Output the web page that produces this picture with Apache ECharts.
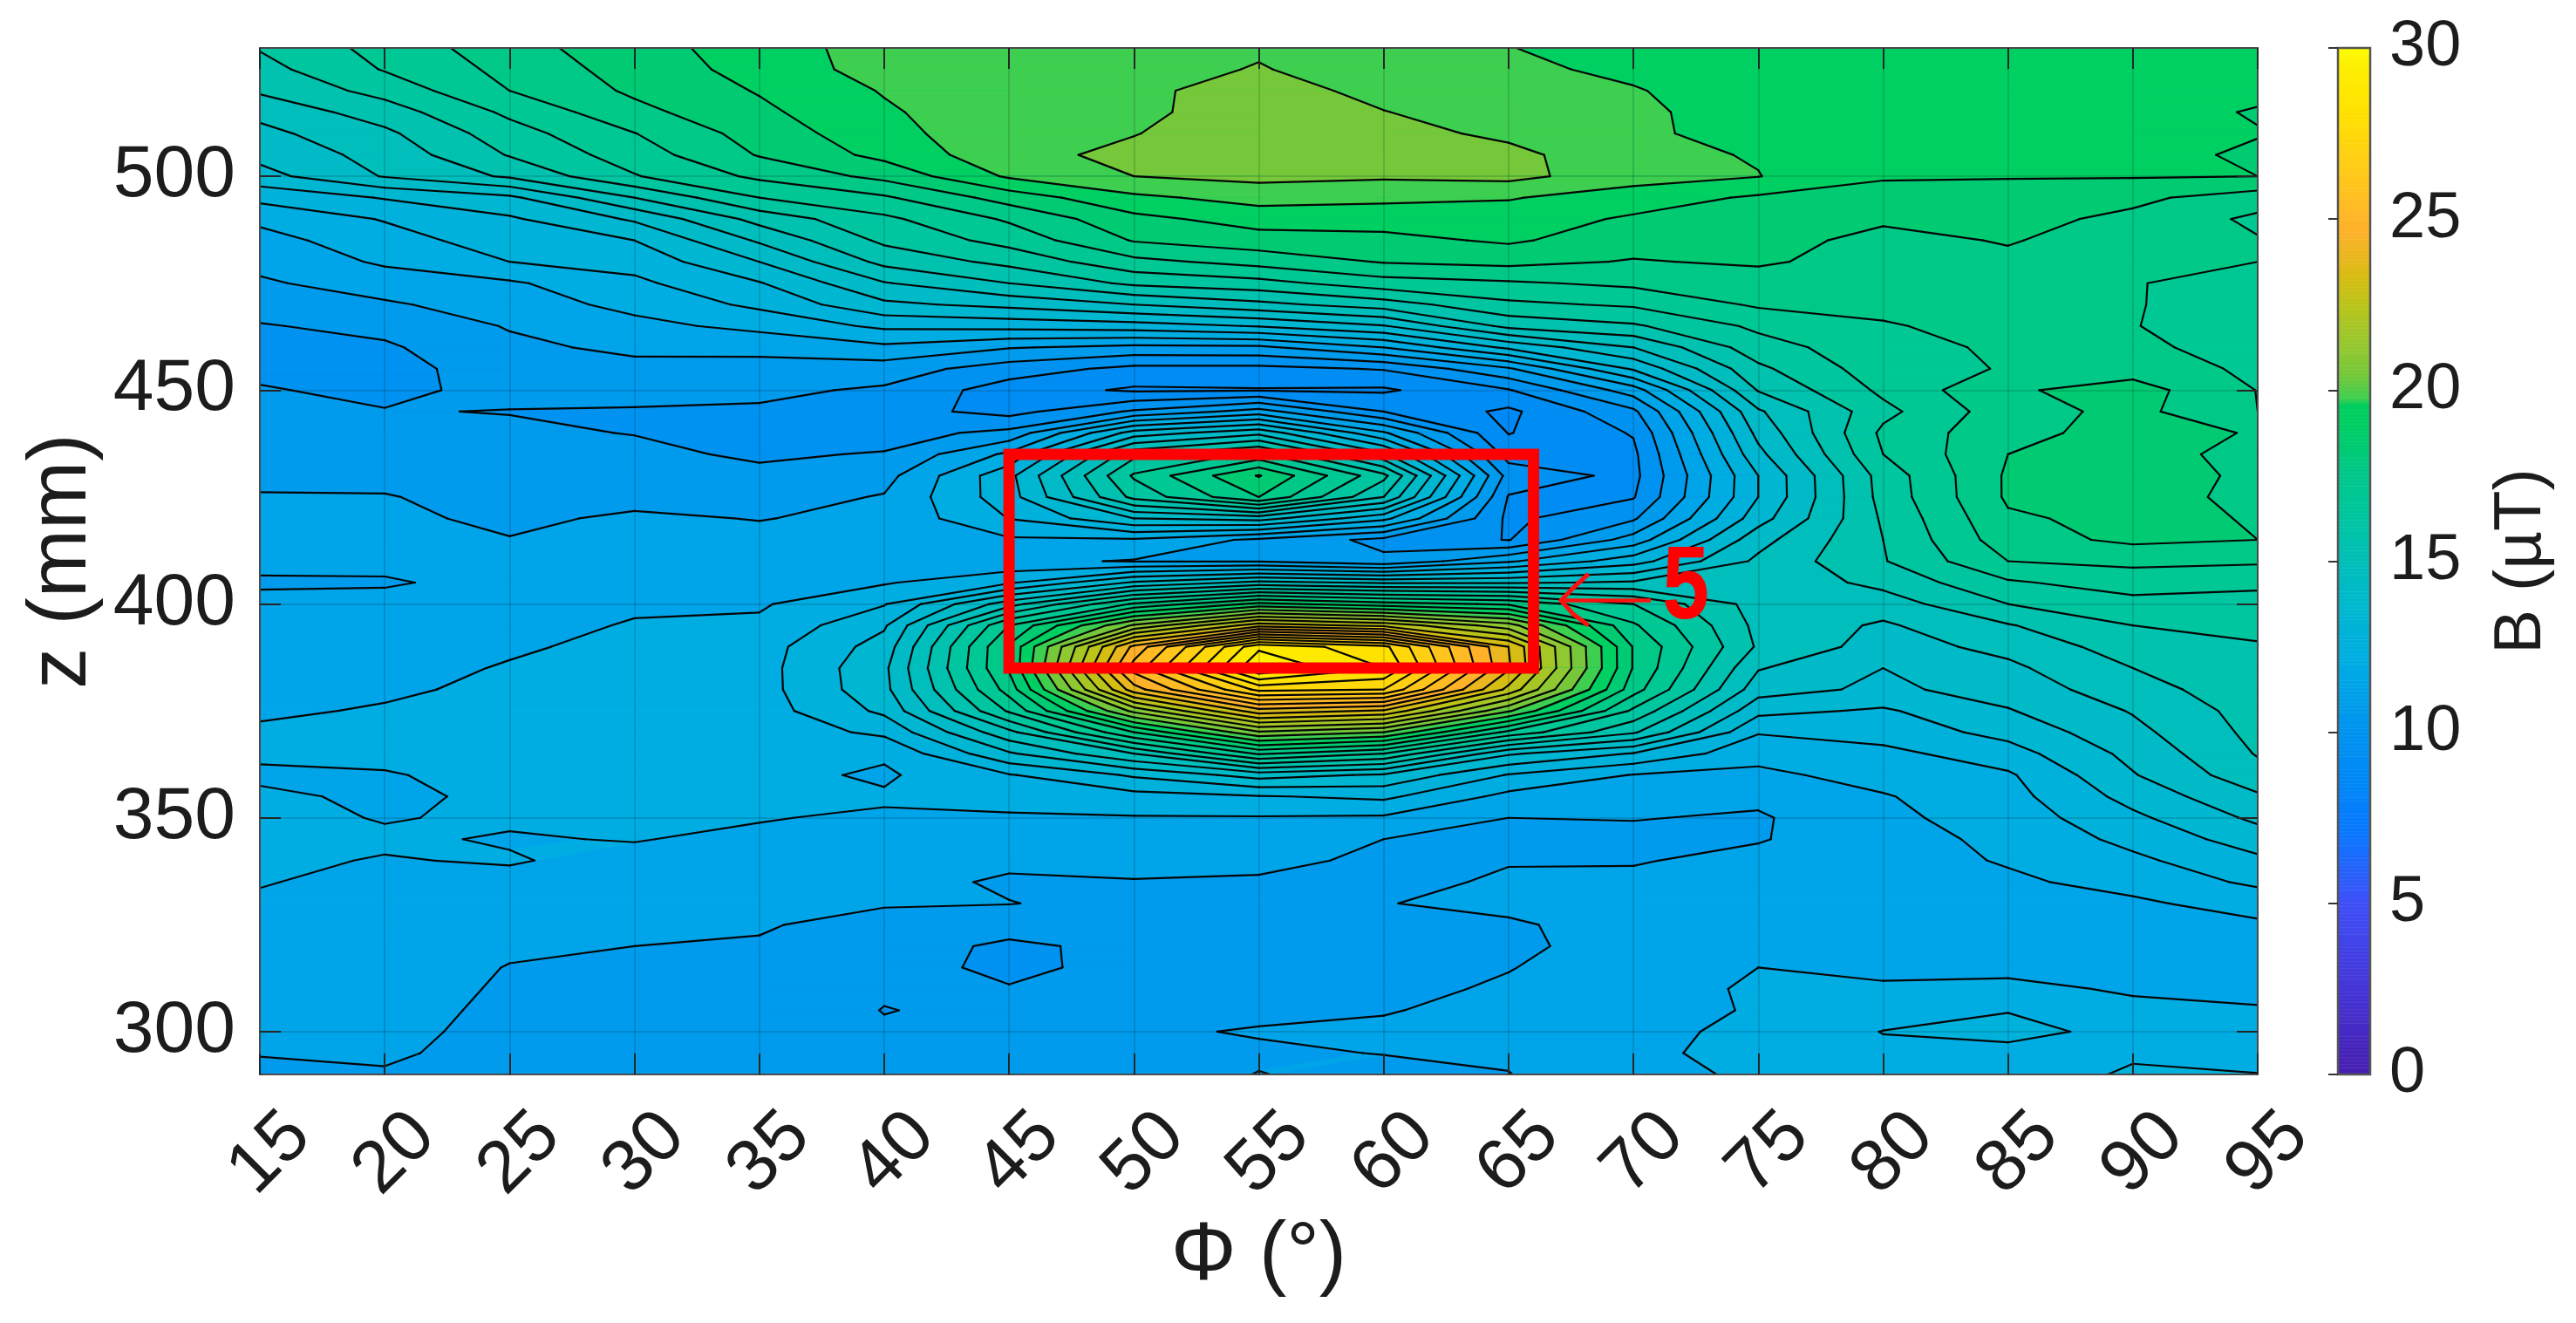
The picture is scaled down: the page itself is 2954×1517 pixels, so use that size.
<!DOCTYPE html>
<html>
<head>
<meta charset="utf-8">
<style>html,body{margin:0;padding:0;background:#fff}#c{width:2954px;height:1517px}</style>
<script src="https://cdn.jsdelivr.net/npm/echarts@6/dist/echarts.min.js"></script>
</head>
<body>
<div id="c"></div>
<script>
const phiValues = [15,20,25,30,35,40,45,50,55,60,65,70,75,80,85,90,95];
const zValues = [530,525,520,515,510,505,500,495,490,485,480,475,470,465,460,455,450,445,440,435,430,425,420,415,410,405,400,395,390,385,380,375,370,365,360,355,350,345,340,335,330,325,320,315,310,305,300,295,290];
const zTicks = [300,350,400,450,500];
const levels = [8.5,9.2,9.9,10.6,11.3,12,12.7,13.4,14.1,14.8,15.5,16.2,16.9,17.6,18.3,19,19.7,20.4,21.1,21.8,22.5,23.2,23.9,24.6,25.3,26,26.7,27.4,28.1,28.8,29.5,30.2];

const B15 = [16.25,15.95,15.6,15.0,14.6,14.3,13.85,12.9,12.15,11.75,
 11.5,11.2,10.9,10.55,10.3,10.45,10.65,10.8,10.95,11.05,
 11.2,11.33,11.4,11.45,11.5,11.2,11.5,11.6,11.65,11.75,
 11.85,11.95,12.05,12.1,11.9,12.1,12.1,12.1,12.06,12.02,
 11.95,11.88,11.8,11.7,11.62,11.52,11.42,11.32,11.2];
const B20 = [17.15,16.95,16.45,15.85,15.35,15.05,14.85,13.45,12.75,12.4,
 12.1,11.65,11.2,10.8,10.5,10.35,10.45,10.63,10.8,10.95,
 11.15,11.33,11.4,11.45,11.5,11.22,11.55,11.68,11.78,11.87,
 11.95,12.03,12.08,12.1,11.97,11.9,11.98,12.05,11.98,11.9,
 11.85,11.8,11.75,11.7,11.65,11.55,11.48,11.38,11.25];
const B25 = [18.0,17.8,17.6,17.05,16.6,16.25,15.6,13.95,13.3,13.05,
 12.7,11.9,11.65,11.35,11.15,10.95,10.78,10.58,10.7,10.8,
 10.95,11.1,11.2,11.32,11.45,11.55,11.7,11.82,11.95,12.03,
 12.07,12.1,12.13,12.15,12.13,12.1,12.05,11.97,12.03,11.9,
 11.75,11.6,11.42,11.27,11.2,11.15,11.1,11.1,11.1];
const B30 = [18.75,18.6,18.42,18.1,17.58,17.25,16.85,15.5,14.2,13.4,
 12.95,12.55,12.2,11.8,11.45,11.1,10.8,10.55,10.58,10.75,
 10.9,11.15,11.38,11.5,11.62,11.75,11.92,12.04,12.1,12.15,
 12.2,12.25,12.3,12.3,12.27,12.2,12.1,12.02,11.88,11.72,
 11.58,11.45,11.3,11.22,11.15,11.1,11.08,11.05,11.05];
const B35 = [19.3,19.25,19.05,18.85,18.6,18.35,17.75,16.9,15.75,14.9,
 14.1,13.35,12.85,12.2,11.5,11.05,10.75,10.5,10.35,10.5,
 10.75,11.0,11.28,11.45,11.6,11.75,11.92,12.12,12.4,12.42,
 12.42,12.37,12.28,12.25,12.2,12.12,12.03,11.9,11.75,11.6,
 11.47,11.35,11.25,11.18,11.12,11.08,11.05,11.02,11.02];
const B40 = [20.05,20.0,19.75,19.6,19.45,19.2,18.5,17.5,16.75,16.35,
 15.7,14.75,13.95,12.85,11.85,10.95,10.5,10.2,10.3,10.65,
 11.05,11.35,11.43,11.55,11.72,11.93,12.65,13.3,13.7,13.95,
 13.9,13.55,12.85,12.1,11.9,12.08,11.92,11.82,11.72,11.55,
 11.35,11.1,10.95,10.85,10.68,10.58,10.68,10.72,10.75];
const B45 = [20.1,20.1,20.15,20.2,20.2,20.15,19.8,18.6,17.7,17.15,
 16.4,15.5,14.3,12.95,11.35,10.25,9.55,9.65,10.8,12.15,
 13.2,13.1,12.72,11.9,11.45,12.6,15.2,17.6,18.4,18.4,
 17.9,17.0,15.3,14.0,12.65,12.3,11.9,11.7,11.45,11.2,
 11.32,10.9,10.46,10.45,10.64,10.75,10.8,10.8,10.85];
const B50 = [20.0,20.1,20.25,20.2,20.37,20.6,20.4,19.55,18.8,18.35,
 17.4,16.35,14.8,13.1,11.1,9.7,9.1,10.7,13.7,16.0,
 17.0,16.4,14.1,11.9,11.25,14.2,17.7,21.2,24.8,25.6,
 24.3,21.3,18.3,15.5,13.5,12.45,11.95,11.8,11.6,11.25,
 11.1,10.95,10.8,10.8,10.82,10.88,11.2,11.0,10.95];
const B55 = [20.3,20.45,20.7,20.85,20.9,20.85,20.6,19.95,19.3,18.7,
 17.85,16.65,15.3,13.45,11.15,9.7,9.15,11.6,14.6,17.1,
 19.05,18.3,14.4,11.15,11.25,15.0,19.2,23.6,29.35,30.15,
 27.6,24.3,21.0,17.7,14.4,12.65,11.95,11.75,11.5,11.2,
 11.0,10.95,10.9,10.85,10.85,11.15,11.35,11.2,11.32];
const B60 = [19.95,20.0,20.2,20.42,20.65,20.7,20.5,19.85,19.3,18.8,
 18.35,17.3,15.85,14.05,12.0,9.95,9.1,9.9,12.1,14.25,
 16.4,15.5,12.9,10.4,10.75,14.7,18.6,23.0,28.3,28.8,
 27.4,23.8,20.4,16.9,14.0,12.85,11.9,11.3,11.15,11.05,
 11.28,10.95,10.95,11.0,11.1,11.25,11.45,11.32,11.1];
const B65 = [19.72,19.85,19.95,20.05,20.25,20.6,20.6,19.75,19.35,19.1,
 18.5,17.5,16.75,15.7,13.55,11.2,9.85,9.05,9.17,9.6,
 10.33,9.85,9.75,9.87,11.9,14.7,18.2,21.4,23.9,24.0,
 23.0,20.5,17.4,14.2,12.65,11.8,11.3,11.15,11.25,11.42,
 11.45,11.22,11.15,11.27,11.4,11.55,11.52,11.4,11.28];
const B70 = [19.4,19.55,19.75,19.85,19.85,19.9,20.0,19.35,18.9,18.6,
 18.25,17.75,17.0,16.1,14.8,13.5,11.65,10.45,9.95,9.75,
 9.7,9.85,10.5,11.6,13.1,14.9,16.9,17.7,18.25,18.25,
 17.9,16.75,15.6,13.35,11.97,11.7,11.33,11.12,11.25,11.45,
 11.5,11.55,11.6,11.7,11.78,11.78,11.85,11.9,11.9];
const B75 = [19.2,19.25,19.3,19.35,19.4,19.65,19.72,18.9,18.75,18.55,
 18.4,17.95,17.7,17.05,16.6,16.05,15.55,14.7,14.3,13.9,
 13.4,13.4,13.8,14.55,14.95,15.0,15.2,15.3,15.4,14.85,
 14.4,13.6,12.75,12.22,11.85,11.45,11.22,11.25,11.5,11.65,
 11.75,11.82,11.9,12.0,12.07,12.05,12.13,12.15,12.05];
const B80 = [19.2,19.2,19.2,19.2,19.2,19.15,19.05,18.8,18.4,18.1,
 18.0,17.9,17.75,17.55,17.35,17.3,17.05,16.7,17.05,16.9,
 16.5,16.45,16.3,16.2,16.15,15.7,15.15,14.7,14.5,14.1,
 13.95,13.3,13.0,12.5,12.25,11.95,11.85,11.75,11.75,11.8,
 11.82,11.85,11.88,11.95,12.03,12.35,12.72,12.55,12.3];
const B85 = [19.2,19.2,19.2,19.2,19.2,19.15,19.05,18.65,18.5,18.35,
 18.15,17.98,17.88,17.8,17.72,17.65,18.2,18.0,18.1,18.3,
 18.4,18.4,18.2,18.0,17.6,16.8,16.2,15.45,15.0,14.65,
 14.4,14.05,13.62,13.1,12.6,12.45,12.3,12.15,12.05,11.9,
 11.85,11.85,11.85,11.9,12.1,12.68,12.85,12.55,12.3];
const B90 = [19.3,19.3,19.3,19.25,19.25,19.2,19.05,18.45,18.15,17.95,
 17.8,17.62,17.63,17.62,17.75,18.0,18.6,18.5,18.55,18.6,
 18.65,18.6,18.5,18.45,17.75,17.25,16.65,16.2,15.85,15.5,
 15.2,14.85,14.6,14.3,14.05,13.65,13.25,12.9,12.55,12.2,
 11.9,11.85,11.85,11.85,11.95,12.1,12.55,12.6,12.8];
const B95 = [19.35,19.25,19.15,18.95,19.03,18.9,19.0,17.95,17.45,17.65,
 17.6,17.45,17.35,17.3,17.3,17.45,17.58,17.6,18.25,18.05,
 18.15,18.1,18.25,18.3,17.7,17.05,16.65,16.35,16.15,16.05,
 15.95,15.8,15.7,15.55,15.25,14.7,14.25,13.75,13.25,12.85,
 12.25,11.9,11.8,11.75,11.85,12.05,12.2,12.4,12.72];

const boxPhi = [45,66];
const boxZ = [385,435];
const arrowShaftPhi = [70.7,67.1];
const arrowShaftZ = [400.8,400.8];
const arrowHeadPhi = [68.2,67.6,67.1,67.6,68.2];
const arrowHeadZ = [407,403.8,400.8,397.6,395];
const annotationPos = [72.1,403.3];

const columns = [B15,B20,B25,B30,B35,B40,B45,B50,B55,B60,B65,B70,B75,B80,B85,B90,B95];

const cmapStops = [
 [0,'#471fb0'],[2.5,'#4536d8'],[5,'#3f50f8'],[7,'#0a78ff'],[8.5,'#0088f6'],[9.9,'#0092f0'],[11.3,'#00a4e8'],
 [12,'#00ade3'],[13.4,'#00b7d2'],[14.8,'#00bebb'],[16.2,'#00c6a0'],[17.6,'#00c988'],[18.3,'#00cb72'],[19,'#00cf62'],[19.5,'#00cf60'],
 [19.7,'#3ecf50'],[20.4,'#76c83a'],[21.1,'#90c832'],[22.5,'#bcc41a'],[23.2,'#d6bd14'],[24.6,'#ffb12a'],[25.3,'#ffba24'],
 [26.7,'#ffcf14'],[28.1,'#ffe200'],[29.5,'#fdf000'],[30,'#ffff00']];
function hex(c){return [parseInt(c.slice(1,3),16),parseInt(c.slice(3,5),16),parseInt(c.slice(5,7),16)];}
function cmap(v){
  if(v<=cmapStops[0][0])return cmapStops[0][1];
  for(let k=1;k<cmapStops.length;k++){
    if(v<=cmapStops[k][0]){
      const a=cmapStops[k-1],b=cmapStops[k],t=(v-a[0])/(b[0]-a[0]),A=hex(a[1]),B=hex(b[1]);
      return 'rgb('+[0,1,2].map(n=>Math.round(A[n]+(B[n]-A[n])*t)).join(',')+')';
    }
  }
  return '#ffff00';
}
function cellCorners(i,j,api){
  const idx=[[i,j],[i+1,j],[i+1,j+1],[i,j+1]];
  return idx.map(p=>{const c=api.coord([phiValues[p[0]],zValues[p[1]]]);return {x:c[0],y:c[1],v:columns[p[0]][p[1]]};});
}
function clipAbove(q,L){
  const out=[];
  for(let k=0;k<q.length;k++){
    const a=q[k],b=q[(k+1)%q.length];
    if(a.v>=L)out.push([a.x,a.y]);
    if((a.v>=L)!==(b.v>=L)){
      const t=(L-a.v)/(b.v-a.v);
      out.push([a.x+(b.x-a.x)*t,a.y+(b.y-a.y)*t]);
    }
  }
  return out;
}
function renderFill(params,api){
  const q=cellCorners(api.value(2),api.value(3),api);
  const vs=q.map(c=>c.v),mn=Math.min.apply(null,vs),mx=Math.max.apply(null,vs);
  let base=levels[0];
  for(const L of levels){if(L<=mn)base=L;}
  const col0=cmap(base);
  const children=[{type:'polygon',shape:{points:q.map(c=>[c.x,c.y])},style:{fill:col0,stroke:col0,lineWidth:1},silent:true}];
  for(const L of levels){
    if(L>mn&&L<=mx){
      const pts=clipAbove(q,L);
      if(pts.length>2){
        const col=cmap(L);
        children.push({type:'polygon',shape:{points:pts},style:{fill:col,stroke:col,lineWidth:0.8},silent:true});
      }
    }
  }
  return {type:'group',children:children};
}
function renderLines(params,api){
  const q=cellCorners(api.value(2),api.value(3),api);
  const vs=q.map(c=>c.v),mn=Math.min.apply(null,vs),mx=Math.max.apply(null,vs);
  const children=[];
  const avg=(vs[0]+vs[1]+vs[2]+vs[3])/4;
  for(const L of levels){
    if(L<=mn||L>mx)continue;
    const cr=[];
    for(let k=0;k<4;k++){
      const a=q[k],b=q[(k+1)%4];
      if((a.v>=L)!==(b.v>=L)){
        const t=(L-a.v)/(b.v-a.v);
        cr.push({e:k,x:a.x+(b.x-a.x)*t,y:a.y+(b.y-a.y)*t});
      }
    }
    let segs=[];
    if(cr.length===2)segs=[[cr[0],cr[1]]];
    else if(cr.length===4){
      const firstHigh=q[0].v>=L;
      if((avg>=L)===firstHigh)segs=[[cr[0],cr[1]],[cr[2],cr[3]]];
      else segs=[[cr[3],cr[0]],[cr[1],cr[2]]];
    }
    for(const s of segs){
      children.push({type:'line',shape:{x1:s[0].x,y1:s[0].y,x2:s[1].x,y2:s[1].y},
        style:{stroke:'#050505',lineWidth:2.2,lineCap:'round'},silent:true});
    }
  }
  return {type:'group',children:children};
}
function renderAnnotation(params,api){
  const P=(a,b)=>api.coord([a,b]);
  const box=[P(boxPhi[0],boxZ[0]),P(boxPhi[1],boxZ[0]),P(boxPhi[1],boxZ[1]),P(boxPhi[0],boxZ[1])];
  const t=P(annotationPos[0],annotationPos[1]);
  return {type:'group',children:[
    {type:'polygon',shape:{points:box},style:{fill:'none',stroke:'#ff0000',lineWidth:13,lineJoin:'miter'}},
    {type:'polyline',shape:{points:arrowShaftPhi.map((a,k)=>P(a,arrowShaftZ[k]))},style:{fill:'none',stroke:'#ff1010',lineWidth:4.5}},
    {type:'polyline',shape:{points:arrowHeadPhi.map((a,k)=>P(a,arrowHeadZ[k]))},style:{fill:'none',stroke:'#ff1010',lineWidth:5}},
    {type:'text',x:t[0],y:t[1],scaleX:0.82,style:{text:'5',fill:'#ff0000',font:'bold 118px "Liberation Sans"',textAlign:'center',textVerticalAlign:'middle'}}
  ]};
}
function renderBar(params,api){
  const a=api.coord([0,api.value(0)]),b=api.coord([1,api.value(0)+0.1]);
  const col=cmap(api.value(0));
  return {type:'rect',shape:{x:a[0],y:b[1],width:b[0]-a[0],height:a[1]-b[1]},style:{fill:col,stroke:col,lineWidth:0.6},silent:true};
}
function renderBarBorder(params,api){
  const a=api.coord([0,0]),b=api.coord([1,30]);
  return {type:'rect',shape:{x:a[0],y:b[1],width:b[0]-a[0],height:a[1]-b[1]},style:{fill:'none',stroke:'#555555',lineWidth:2.5},silent:true};
}

const cells=[];
for(let i=0;i<phiValues.length-1;i++)for(let j=0;j<zValues.length-1;j++)cells.push([phiValues[i],zValues[j],i,j]);
const barSteps=[];
for(let k=0;k<300;k++)barSteps.push([k/10]);

const font='"Liberation Sans", Arial, sans-serif';
const textCol='#1c1c1c';
const edge={show:true,onZero:false,lineStyle:{color:'#4a4a4a',width:2}};
const chart=echarts.init(document.getElementById('c'),null,{renderer:'canvas'});
chart.setOption({
  animation:false,
  backgroundColor:'#ffffff',
  grid:[
    {left:298,top:55,width:2291,height:1177},
    {left:2681,top:55,width:37,height:1177}
  ],
  xAxis:[
    {type:'value',gridIndex:0,min:15,max:95,interval:5,z:10,position:'bottom',axisLine:edge,
     axisTick:{show:true,inside:true,length:24,lineStyle:{color:'#262626',width:2}},
     splitLine:{show:true,lineStyle:{color:'rgba(0,0,0,0.13)',width:2}},
     axisLabel:{rotate:45,align:'center',verticalAlign:'middle',margin:103,padding:[0,0,0,34],fontSize:84,color:textCol,fontFamily:font,hideOverlap:false,showMinLabel:true,showMaxLabel:true},
     name:'Φ (°)',nameLocation:'middle',nameGap:209,nameTextStyle:{fontSize:94,color:textCol,fontFamily:font,verticalAlign:'middle'}},
    {type:'value',gridIndex:0,min:15,max:95,interval:5,z:10,position:'top',axisLine:edge,
     axisTick:{show:true,inside:true,length:24,lineStyle:{color:'#262626',width:2}},
     splitLine:{show:false},axisLabel:{show:false}},
    {type:'value',gridIndex:1,min:0,max:1,show:false}
  ],
  yAxis:[
    {type:'value',gridIndex:0,min:290,max:530,z:10,position:'left',axisLine:edge,
     axisTick:{show:true,inside:true,length:24,lineStyle:{color:'#262626',width:2},customValues:zTicks},
     splitLine:{show:true,lineStyle:{color:'rgba(0,0,0,0.13)',width:2}},
     axisLabel:{margin:28,fontSize:84,color:textCol,fontFamily:font,customValues:zTicks},
     name:'z (mm)',nameLocation:'middle',nameGap:223,nameTextStyle:{fontSize:94,color:textCol,fontFamily:font,verticalAlign:'middle'}},
    {type:'value',gridIndex:0,min:290,max:530,z:10,position:'right',axisLine:edge,
     axisTick:{show:true,inside:true,length:24,lineStyle:{color:'#262626',width:2},customValues:zTicks},
     splitLine:{show:false},axisLabel:{show:false}},
    {type:'value',gridIndex:1,min:0,max:30,interval:5,position:'right',z:10,
     axisLine:{show:false},
     axisTick:{show:true,inside:true,length:11,lineStyle:{color:'#333333',width:2}},
     splitLine:{show:false},
     axisLabel:{margin:22,fontSize:74,color:textCol,fontFamily:font,showMinLabel:true,showMaxLabel:true},
     name:'B (µT)',nameLocation:'middle',nameGap:174,nameRotate:90,nameTextStyle:{fontSize:76,color:textCol,fontFamily:font,verticalAlign:'middle'}}
  ],
  series:[
    {type:'custom',name:'fill',xAxisIndex:0,yAxisIndex:0,coordinateSystem:'cartesian2d',data:cells,encode:{x:0,y:1},renderItem:renderFill,clip:true,z:2,silent:true,progressive:0},
    {type:'custom',name:'contour',xAxisIndex:0,yAxisIndex:0,coordinateSystem:'cartesian2d',data:cells,encode:{x:0,y:1},renderItem:renderLines,clip:true,z:3,silent:true,progressive:0},
    {type:'custom',name:'annotation',xAxisIndex:0,yAxisIndex:0,coordinateSystem:'cartesian2d',data:[[annotationPos[0],annotationPos[1]]],encode:{x:0,y:1},renderItem:renderAnnotation,clip:false,z:20,silent:true},
    {type:'custom',name:'colorbar',xAxisIndex:2,yAxisIndex:2,coordinateSystem:'cartesian2d',data:barSteps,encode:{y:0},renderItem:renderBar,z:2,silent:true,progressive:0},
    {type:'custom',name:'colorbarBorder',xAxisIndex:2,yAxisIndex:2,coordinateSystem:'cartesian2d',data:[[0]],encode:{y:0},renderItem:renderBarBorder,z:5,silent:true}
  ]
});
</script>
</body>
</html>
